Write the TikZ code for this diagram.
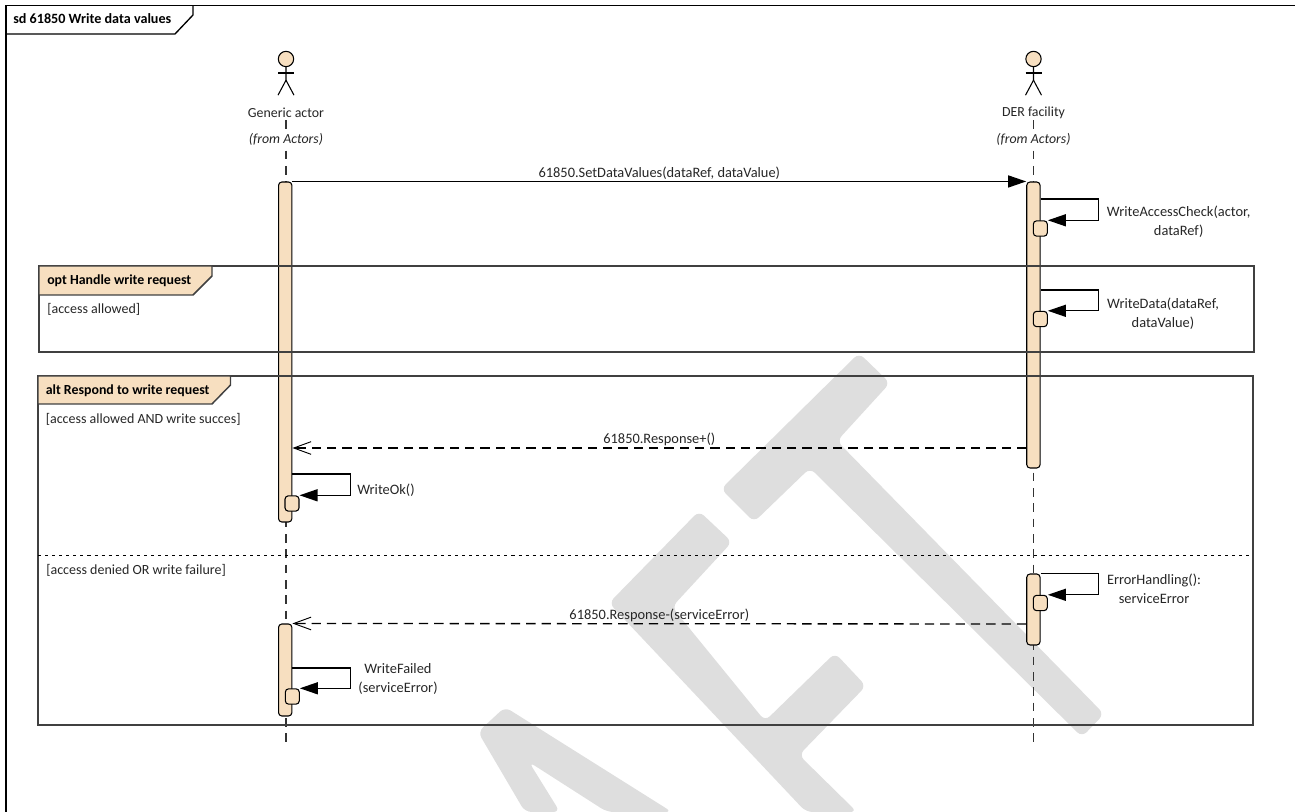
\documentclass[tikz,border=0pt]{standalone}
\usepackage{fontspec}
\setmainfont{Carlito}
\usetikzlibrary{arrows.meta}
\definecolor{tagtan}{HTML}{F7DFC0}
\definecolor{wmgray}{HTML}{DEDEDE}
\definecolor{fragline}{HTML}{404040}
\definecolor{inktext}{HTML}{262626}

\begin{document}
\begin{tikzpicture}[
    x=0.75pt, y=-0.75pt,
    txt/.style={font=\fontsize{10.8}{14.6}\selectfont, text=inktext, align=center, inner sep=0pt},
    lft/.style={txt, font=\fontsize{10.5}{14.6}\selectfont, anchor=west, text height=7pt, text depth=2pt},
    tagtxt/.style={lft, font=\fontsize{10.4}{14.6}\selectfont\bfseries, text=black},
    actlbl/.style={txt, font=\fontsize{10.4}{14.6}\selectfont, fill=white, inner ysep=1pt, inner xsep=1pt},
    actbar/.style={draw=black, fill=tagtan, rounded corners=2.5pt, line width=0.8pt, inner sep=0pt, minimum width=10pt},
    subbar/.style={actbar, minimum width=10.5pt, minimum height=11.5pt},
    head/.style={draw=black, fill=tagtan, circle, line width=0.8pt, inner sep=0pt, minimum size=11.5pt},
    lifeln/.style={line width=0.9pt, black!80, dash pattern=on 6.5pt off 5pt},
    msg/.style={-{Triangle[length=13.5pt, width=9pt]}, line width=1pt, black},
    ret/.style={-{Straight Barb[length=13pt, width=9.5pt, line width=0.7pt]}, line width=1pt, black, dash pattern=on 7pt off 4.5pt},
    frag/.style={draw=fragline, line width=1.2pt},
    tag/.style={draw=fragline, line width=1.1pt, left color=tagtan, middle color=white, right color=tagtan},
    wm/.style={fill=wmgray, rounded corners=5pt}
]
\useasboundingbox (0,0) rectangle (1295,812);

% watermark
\fill[wm] (859,353) -- (890,383) -- (837,441) -- (1104,714) -- (1082,737) -- (810,468) -- (754,522) -- (721,489) -- cycle;
\fill[wm] (699,511) -- (732,542) -- (672,607) -- (765,721) -- (835,653) -- (866,686) -- (799,755) -- (857,812) -- (806,812) -- (609,603) -- cycle;
\fill[wm] (505,707) -- (478,732) -- (525,812) -- (560,812) -- (529,762) -- (607,812) -- (672,812) -- cycle;

% outer frame
\draw[black, line width=1pt] (1295,5.5) -- (6,5.5) -- (6,812);
\draw[black, line width=1pt] (193,5.5) -- (193,15) -- (175,34) -- (6,34);
\node[tagtxt, font=\fontsize{10.6}{14.6}\selectfont\bfseries] (sdlbl) at (13,20) {sd 61850 Write data values};

% actors
\foreach \nm/\xx/\txt in {Gen/286/Generic actor, Der/1033.5/DER facility} {
    \coordinate (end\nm) at (\xx,745);
    \node[head] (head\nm) at (\xx,59) {};
    \draw[line width=0.8pt] (head\nm.south) -- ++(0,13) -- ++(-8,15);
    \draw[line width=0.8pt] (head\nm.south) ++(0,13) -- ++(8,15);
    \draw[line width=0.8pt] (\xx-8,73) -- (\xx+8,73);
    \draw[lifeln] (\xx,120) -- (end\nm);
    \node[actlbl] (name\nm) at (\xx,113) {\txt};
    \node[actlbl] (from\nm) at (\xx,139) {\itshape (from Actors)};
}

% activations
\node[actbar, minimum height=255pt] (barGa) at (285.2,352) {};
\node[actbar, minimum height=69pt] (barGb) at (285.2,670) {};
\node[actbar, minimum height=214.5pt] (barDa) at (1033.4,325) {};
\node[actbar, minimum height=53.25pt] (barDb) at (1033.4,609.5) {};
\node[subbar] (subDa) at (1040.3,228.5) {};
\node[subbar] (subDb) at (1040.3,319) {};
\node[subbar] (subDc) at (1040.3,603) {};
\node[subbar] (subGa) at (292,503.5) {};
\node[subbar] (subGb) at (292.3,696.5) {};

% fragments
\draw[frag] (39,266) rectangle (1254,352);
\draw[tag] (39,266) -- (212,266) -- (212,276) -- (193,295) -- (39,295) -- cycle;
\node[tagtxt] (optlbl) at (47,281) {opt Handle write request};
\node[lft] (optgrd) at (47,310) {[access allowed]};

\draw[frag] (38,376) rectangle (1253,725);
\draw[tag] (38,376) -- (230.5,376) -- (230.5,385) -- (212,404) -- (38,404) -- cycle;
\node[tagtxt] (altlbl) at (45.5,391) {alt Respond to write request};
\node[lft] (altgrda) at (45.5,420) {[access allowed AND write succes]};
\draw[black, line width=0.7pt, dash pattern=on 2.3pt off 3pt] (38,555) -- (1253,555);
\node[lft] (altgrdb) at (46,571) {[access denied OR write failure]};

% messages
\draw[msg] (barGa.north east) -- node[txt, pos=0.5, yshift=6pt] (setlbl) {61850.SetDataValues(dataRef, dataValue)} (barDa.north west);
\draw[ret] (barDa.west |- 0,448) -- node[txt, yshift=6.4pt] (oklbl) {61850.Response+()} (barGa.east |- 0,448);
\draw[ret] (barDb.west |- 0,624) -- node[txt, yshift=6.2pt] (errlbl) {61850.Response-(serviceError)} (barGb.north east);

% self calls
\draw[msg] (barDa.east |- 0,199) -- ++(58,0) |- (subDa.north east);
\node[txt] (chklbl) at (1178.7,222) {WriteAccessCheck(actor,\\dataRef)};
\draw[msg] (barDa.east |- 0,290) -- ++(58,0) |- (subDb.north east);
\node[txt] (wrtlbl) at (1163,313.7) {WriteData(dataRef,\\dataValue)};
\draw[msg] (barDb.north east) -- ++(58,0) |- (subDc.north east);
\node[txt] (hdllbl) at (1154,589) {ErrorHandling():\\serviceError};
\draw[msg] (barGa.east |- 0,474) -- ++(58,0) |- (subGa.north east);
\node[txt] (oklbl2) at (386,490) {WriteOk()};
\draw[msg] (barGb.east |- 0,668) -- ++(58,0) |- (subGb.north east);
\node[txt] (faillbl) at (398,679) {WriteFailed\\(serviceError)};
\end{tikzpicture}
\end{document}
